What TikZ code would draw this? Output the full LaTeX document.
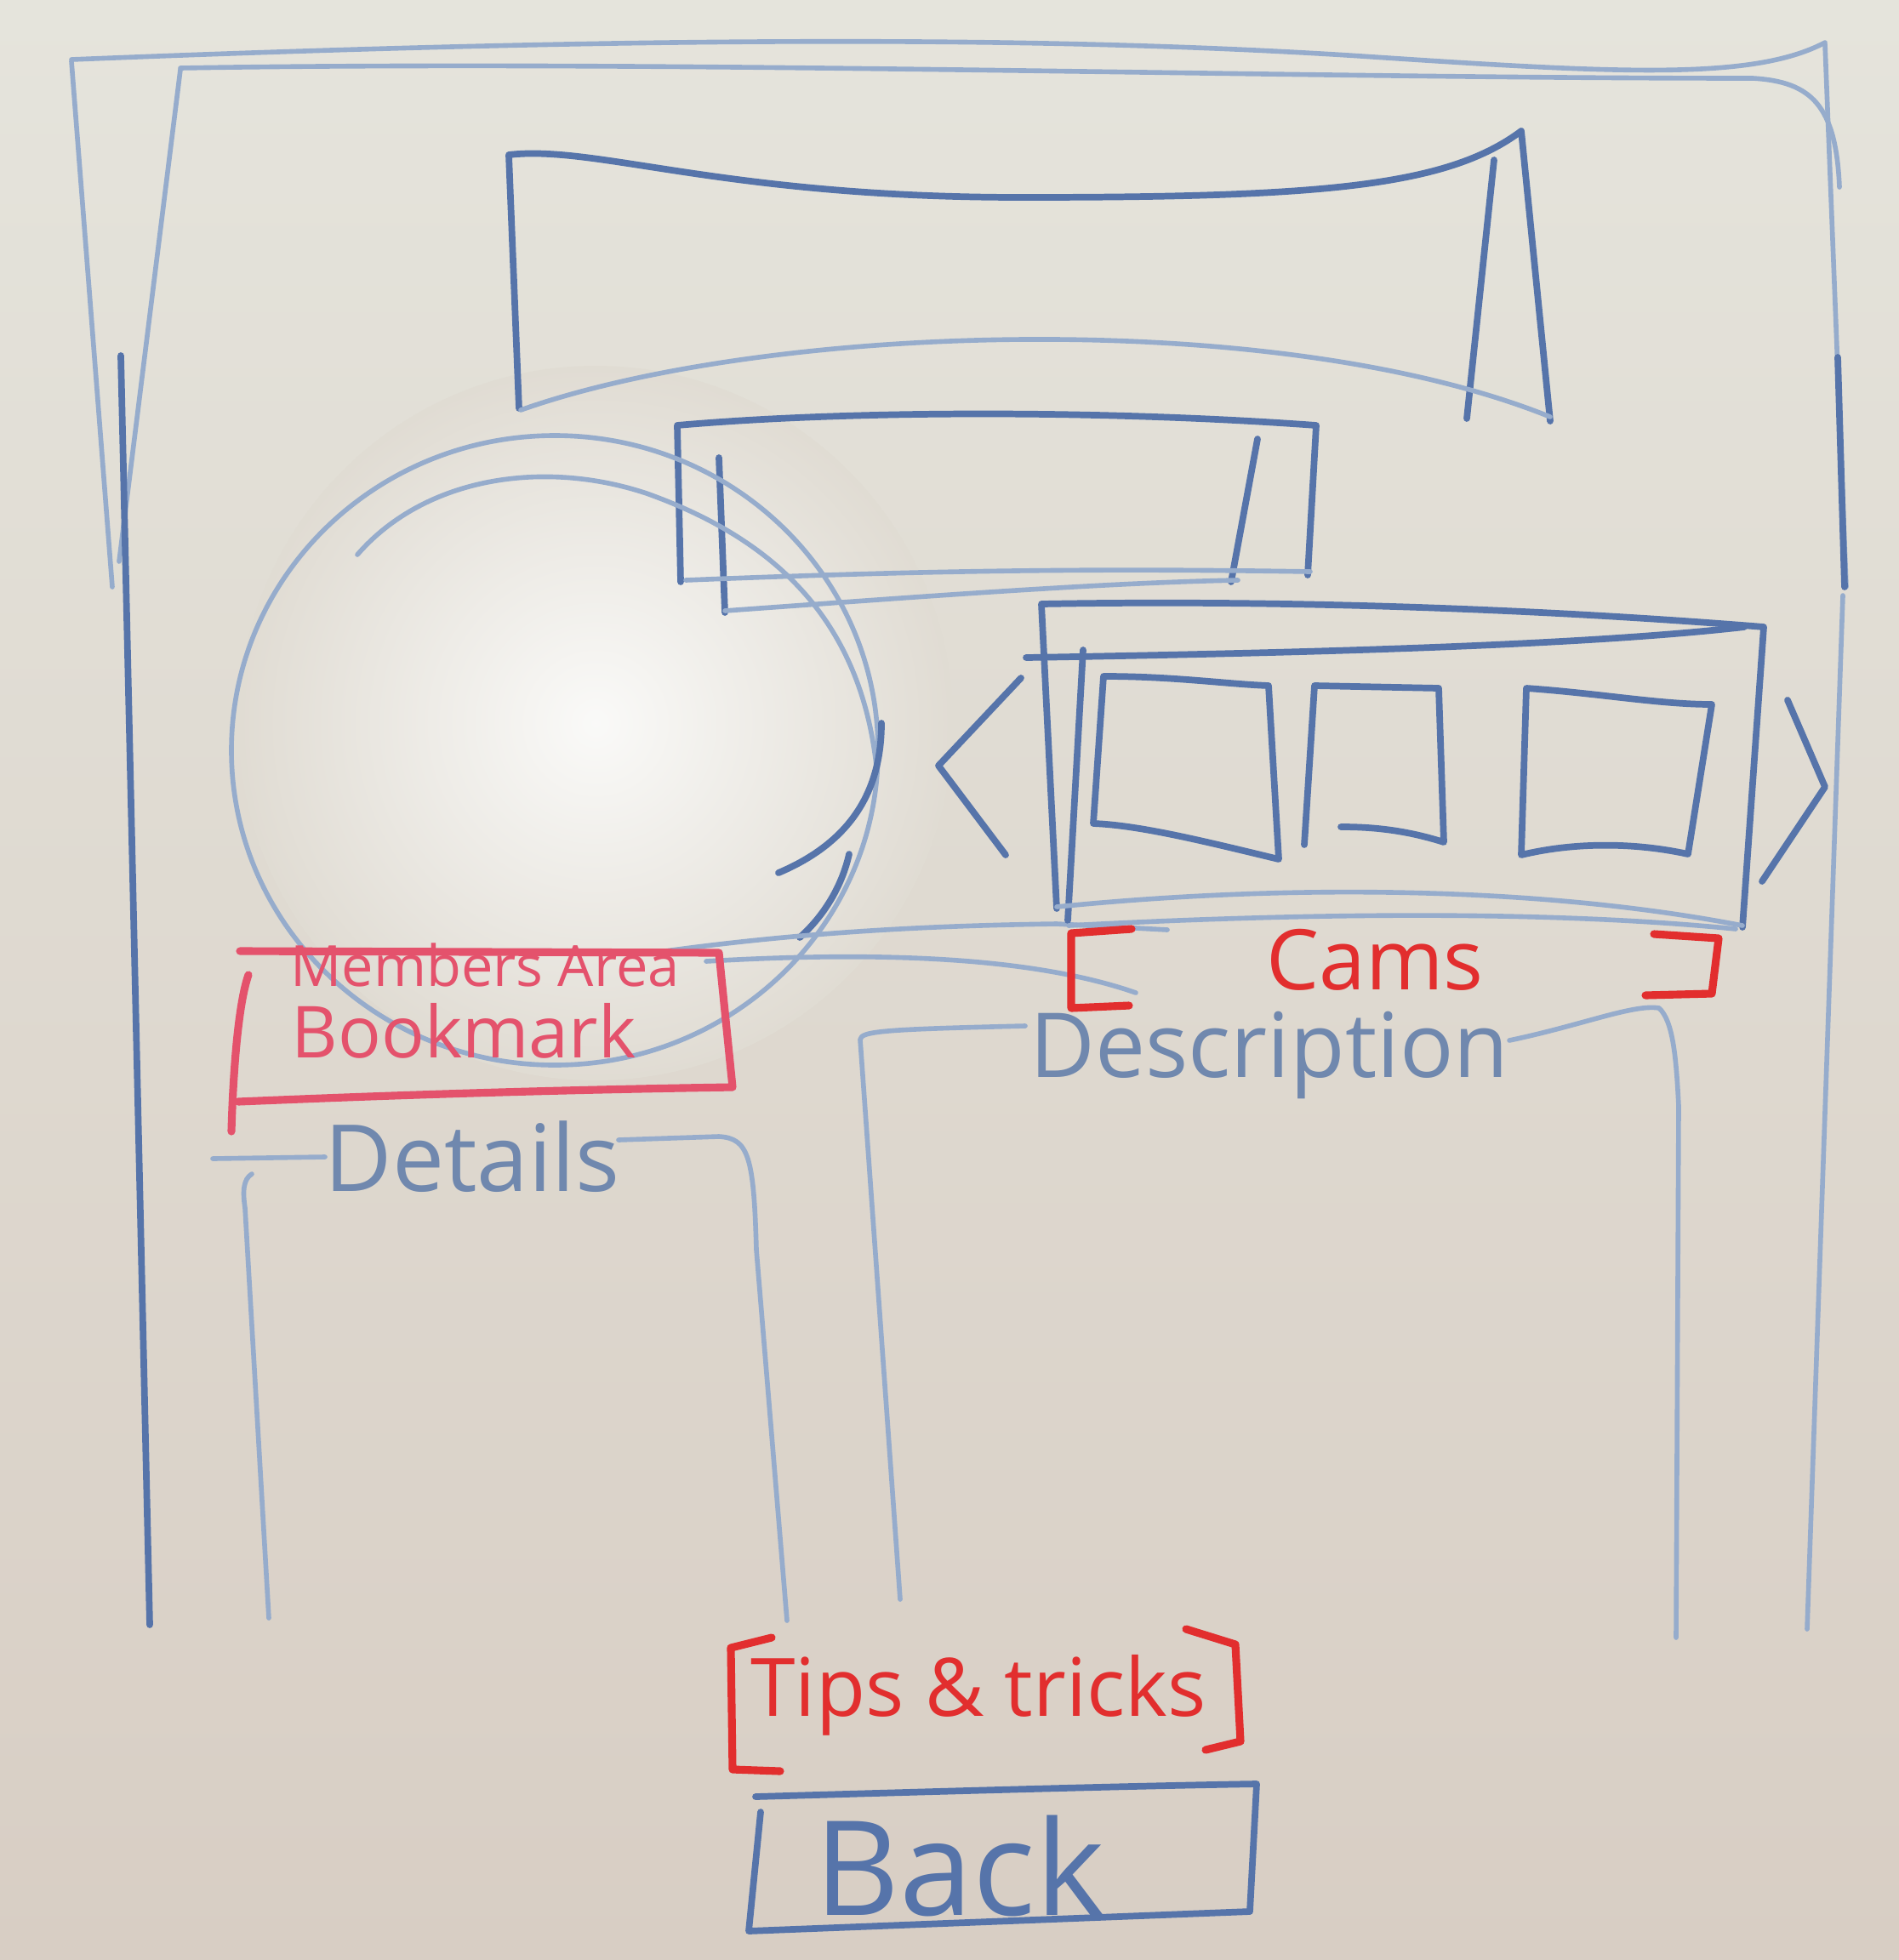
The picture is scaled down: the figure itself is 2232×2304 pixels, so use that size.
\documentclass[tikz,border=0pt]{standalone}
\usepackage{fontspec}
\setmainfont{Open Sans}

\definecolor{boardtop}{RGB}{229,228,220}
\definecolor{boardbot}{RGB}{216,206,196}
\definecolor{marker}{RGB}{86,116,170}
\definecolor{markerfaint}{RGB}{150,172,204}
\definecolor{ink}{RGB}{112,136,174}
\definecolor{redmarker}{RGB}{226,46,46}
\definecolor{pinkmarker}{RGB}{228,82,108}

\tikzset{
  pen/.style={draw=marker, line width=2.2pt, line cap=round, line join=round},
  faintpen/.style={draw=markerfaint, line width=1.6pt, line cap=round, line join=round},
  redpen/.style={draw=redmarker, line width=2.6pt, line cap=round, line join=round},
  scrawl/.style={inner sep=0pt},
}

\newcommand{\fs}[1]{\fontsize{#1}{#1}\selectfont}

\begin{document}
\begin{tikzpicture}[x=0.1mm, y=-0.1mm]
  % whiteboard
  \useasboundingbox (0,0) rectangle (2232,2304);
  \shade[top color=boardtop, bottom color=boardbot] (0,0) rectangle (2232,2304);
  \shade[inner color=white!80!boardtop, outer color=boardtop!62!boardbot] (700,850) circle[radius=420];

  % Page frame
  \draw[faintpen] (84,70) .. controls (700,45) and (1200,40) .. (1600,66) .. controls (1900,86) and (2060,95) .. (2145,50);
  \draw[faintpen] (212,80) .. controls (800,70) and (1500,92) .. (2060,92) .. controls (2130,96) and (2158,125) .. (2162,220);
  \draw[faintpen] (84,72) -- (132,690);
  \draw[faintpen] (212,82) -- (140,660);
  \draw[pen] (142,418) -- (176,1910);
  \draw[faintpen] (2145,52) -- (2170,690);
  \draw[pen] (2160,420) -- (2168,690);
  \draw[faintpen] (2166,700) -- (2124,1915);

  % Header banner
  \draw[pen] (610,480) -- (598,182) .. controls (700,170) and (850,232) .. (1200,232) .. controls (1550,232) and (1700,220) .. (1788,154) -- (1822,495);
  \draw[pen] (1756,188) -- (1724,492);
  \draw[faintpen] (612,482) .. controls (900,380) and (1500,360) .. (1822,490);

  % Navigation bar
  \draw[pen] (800,684) -- (796,500) .. controls (1000,482) and (1300,482) .. (1547,500) -- (1537,676);
  \draw[pen] (845,538) -- (852,720);
  \draw[pen] (1478,516) -- (1447,684);
  \draw[faintpen] (806,682) .. controls (1100,670) and (1300,668) .. (1540,672);
  \draw[faintpen] (852,718) .. controls (1100,700) and (1300,685) .. (1455,682);

  % Hero circle
  \draw[faintpen] (652,882) ellipse[x radius=380, y radius=370];
  \draw[faintpen] (420,652) .. controls (500,560) and (640,540) .. (760,580) .. controls (900,630) and (1010,720) .. (1030,900);
  \draw[pen] (1036,850) .. controls (1036,930) and (1000,990) .. (915,1026);
  \draw[pen] (998,1004) .. controls (990,1040) and (970,1075) .. (940,1102);

  % Faint strokes left over under the cams strip
  \draw[faintpen] (782,1118) .. controls (950,1095) and (1100,1088) .. (1242,1086) -- (1372,1093);
  \draw[faintpen] (830,1130) .. controls (1000,1120) and (1200,1120) .. (1335,1167);

  % Cams carousel
  \draw[pen] (1242,1068) -- (1224,710) .. controls (1500,705) and (1800,715) .. (2073,737) -- (2048,1090);
  \draw[pen] (1206,773) .. controls (1500,768) and (1850,760) .. (2050,737);
  \draw[pen] (1273,764) -- (1255,1082);
  \draw[faintpen] (1242,1066) .. controls (1500,1040) and (1800,1040) .. (2048,1088);
  \draw[faintpen] (1256,1088) .. controls (1500,1075) and (1800,1068) .. (2040,1092);
  % three thumbnails
  \draw[pen] (1297,795) .. controls (1380,795) and (1440,804) .. (1491,806) -- (1503,1010) .. controls (1420,990) and (1340,970) .. (1285,968) -- cycle;
  \draw[pen] (1533,993) -- (1545,806) -- (1691,809) -- (1697,990) .. controls (1650,975) and (1610,972) .. (1576,972);
  \draw[pen] (1794,809) .. controls (1880,815) and (1950,828) .. (2012,828) -- (1984,1004) .. controls (1920,990) and (1850,990) .. (1788,1005) -- cycle;
  % scroll arrows
  \draw[pen] (1200,797) -- (1103,900) -- (1182,1005);
  \draw[pen] (2101,823) -- (2145,925) -- (2071,1036);

  % Cams caption
  \draw[redpen] (1330,1092) -- (1259,1097) -- (1259,1185) -- (1327,1182);
  \draw[redpen] (1944,1098) -- (2020,1103) -- (2012,1168) -- (1934,1170);
  \node[scrawl, text=redmarker, font=\fs{28}] (cams) at (1616,1128) {Cams};

  % Members area box
  \draw[draw=pinkmarker, line width=2.6pt, line cap=round, line join=round]
    (282,1118) -- (845,1120) -- (861,1278) .. controls (600,1282) and (400,1290) .. (280,1295);
  \draw[draw=pinkmarker, line width=2.6pt, line cap=round] (292,1146) .. controls (280,1180) and (274,1260) .. (272,1330);
  \node[scrawl, text=pinkmarker, font=\fs{19}] (members) at (570,1134) {Members Area};
  \node[scrawl, text=pinkmarker, font=\fs{24}] (bookmark) at (545,1212) {Bookmark};

  % Details column
  \node[scrawl, text=ink, font=\fs{31}] (details) at (555,1360) {Details};
  \draw[faintpen] (250,1362) -- (382,1360);
  \draw[faintpen] (727,1340) -- (845,1336) .. controls (880,1338) and (886,1360) .. (889,1469) -- (925,1905);
  \draw[faintpen] (296,1380) .. controls (286,1386) and (285,1400) .. (288,1420) -- (316,1902);

  % Description column
  \node[scrawl, text=ink, font=\fs{30}] (description) at (1492,1240) {Description};
  \draw[faintpen] (1058,1880) -- (1011,1222) .. controls (1012,1212) and (1040,1210) .. (1205,1206);
  \draw[faintpen] (1774,1223) .. controls (1860,1205) and (1920,1180) .. (1950,1185) .. controls (1966,1200) and (1970,1240) .. (1973,1300) -- (1970,1925);

  % Tips & tricks link
  \draw[redpen] (907,1925) -- (859,1937) -- (861,2080) -- (917,2082);
  \draw[redpen] (1394,1915) -- (1452,1933) -- (1458,2047) -- (1417,2057);
  \node[scrawl, text=redmarker, font=\fs{27}] (tips) at (1150,1993) {Tips \& tricks};

  % Back button
  \draw[pen] (888,2112) .. controls (1100,2106) and (1300,2100) .. (1477,2097) -- (1469,2247) -- (880,2270) -- (894,2130);
  \node[scrawl, text=marker, font=\fs{44}] (back) at (1128,2193) {Back};
\end{tikzpicture}
\end{document}
